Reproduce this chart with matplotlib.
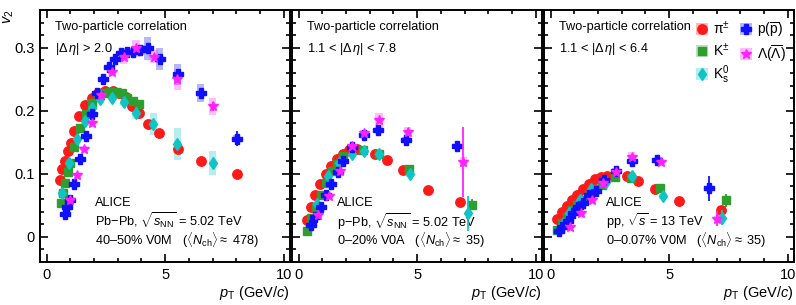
import numpy as np
import matplotlib
matplotlib.use("Agg")
import matplotlib.pyplot as plt
from matplotlib.lines import Line2D
from matplotlib.legend_handler import HandlerTuple
from matplotlib.ticker import MultipleLocator

plt.rcParams['font.family'] = ['Liberation Sans', 'DejaVu Sans']
plt.rcParams['mathtext.fontset'] = 'custom'
plt.rcParams['mathtext.rm'] = 'Liberation Sans'
plt.rcParams['mathtext.it'] = 'Liberation Sans:italic'
plt.rcParams['mathtext.bf'] = 'Liberation Sans:bold'

# ---------------- Panel 1: Pb-Pb ----------------
pbpb_pi_pt = [0.56, 0.66, 0.77, 0.89, 1.01, 1.15, 1.38, 1.63, 1.90, 2.18, 2.46, 2.78, 3.06, 3.35, 3.59, 3.91, 4.27, 4.75, 5.53, 6.50, 8.02]
pbpb_pi_v2 = [0.090, 0.107, 0.121, 0.136, 0.149, 0.168, 0.192, 0.209, 0.221, 0.228, 0.232, 0.232, 0.229, 0.222, 0.207, 0.197, 0.179, 0.164, 0.140, 0.121, 0.099]
pbpb_pi_stat = [0.001, 0.001, 0.001, 0.001, 0.001, 0.001, 0.001, 0.001, 0.001, 0.001, 0.001, 0.001, 0.001, 0.001, 0.001, 0.001, 0.002, 0.002, 0.003, 0.003, 0.004]
pbpb_pi_sys = [0.003, 0.003, 0.003, 0.003, 0.003, 0.003, 0.003, 0.003, 0.003, 0.003, 0.003, 0.003, 0.003, 0.003, 0.003, 0.003, 0.003, 0.003, 0.004, 0.004, 0.004]

pbpb_K_pt = [0.59, 0.68, 0.78, 0.89, 0.98, 1.15, 1.41, 1.66, 1.90, 2.15, 2.42, 2.67, 2.92, 3.16, 3.40, 3.65, 3.91]
pbpb_K_v2 = [0.053, 0.069, 0.085, 0.103, 0.117, 0.143, 0.172, 0.195, 0.212, 0.223, 0.229, 0.230, 0.230, 0.228, 0.221, 0.216, 0.211]
pbpb_K_stat = [0.001, 0.001, 0.001, 0.001, 0.001, 0.001, 0.001, 0.001, 0.001, 0.001, 0.001, 0.001, 0.001, 0.002, 0.002, 0.002, 0.002]
pbpb_K_sys = [0.004, 0.004, 0.004, 0.004, 0.004, 0.004, 0.004, 0.004, 0.004, 0.004, 0.004, 0.004, 0.004, 0.005, 0.005, 0.005, 0.005]

pbpb_K0_pt = [0.63, 0.94, 1.27, 1.62, 1.90, 2.25, 2.77, 3.26, 3.77, 4.50, 5.51, 7.00]
pbpb_K0_v2 = [0.069, 0.117, 0.156, 0.184, 0.204, 0.218, 0.221, 0.214, 0.196, 0.179, 0.147, 0.117]
pbpb_K0_stat = [0.001, 0.001, 0.001, 0.001, 0.001, 0.001, 0.002, 0.002, 0.003, 0.004, 0.005, 0.006]
pbpb_K0_sys = [0.004, 0.004, 0.004, 0.005, 0.005, 0.005, 0.005, 0.006, 0.009, 0.018, 0.025, 0.019]

pbpb_p_pt = [0.77, 0.87, 0.98, 1.15, 1.41, 1.66, 1.90, 2.11, 2.39, 2.62, 2.88, 3.12, 3.38, 3.65, 3.94, 4.27, 4.78, 5.53, 6.50, 8.02]
pbpb_p_v2 = [0.036, 0.047, 0.059, 0.084, 0.123, 0.160, 0.195, 0.228, 0.251, 0.270, 0.283, 0.291, 0.294, 0.294, 0.296, 0.299, 0.282, 0.258, 0.228, 0.156]
pbpb_p_stat = [0.001, 0.001, 0.001, 0.001, 0.001, 0.001, 0.001, 0.001, 0.001, 0.001, 0.002, 0.002, 0.002, 0.002, 0.003, 0.004, 0.004, 0.005, 0.006, 0.012]
pbpb_p_sys = [0.003, 0.003, 0.003, 0.003, 0.003, 0.003, 0.003, 0.003, 0.003, 0.003, 0.003, 0.004, 0.005, 0.006, 0.008, 0.018, 0.017, 0.017, 0.014, 0.006]

pbpb_L_pt = [0.98, 1.29, 1.57, 1.90, 2.28, 2.74, 3.26, 3.77, 4.53, 5.51, 7.00]
pbpb_L_v2 = [0.058, 0.098, 0.140, 0.181, 0.225, 0.262, 0.286, 0.299, 0.286, 0.250, 0.207]
pbpb_L_stat = [0.002, 0.002, 0.002, 0.002, 0.002, 0.002, 0.003, 0.003, 0.004, 0.005, 0.007]
pbpb_L_sys = [0.004, 0.004, 0.004, 0.005, 0.005, 0.006, 0.011, 0.013, 0.010, 0.017, 0.013]

# ---------------- Panel 2: p-Pb ----------------
ppb_pi_pt = [0.34, 0.51, 0.69, 0.90, 1.14, 1.36, 1.60, 1.86, 2.14, 2.45, 3.22, 3.71, 4.41, 5.44, 6.81]
ppb_pi_v2 = [0.026, 0.048, 0.066, 0.084, 0.099, 0.113, 0.124, 0.132, 0.137, 0.139, 0.132, 0.122, 0.106, 0.075, 0.055]
ppb_pi_stat = [0.001, 0.001, 0.001, 0.001, 0.001, 0.001, 0.001, 0.001, 0.001, 0.001, 0.001, 0.002, 0.002, 0.003, 0.004]
ppb_pi_sys = [0.002, 0.002, 0.002, 0.002, 0.002, 0.002, 0.002, 0.002, 0.002, 0.002, 0.002, 0.002, 0.003, 0.003, 0.003]

ppb_K_pt = [0.34, 0.52, 0.72, 0.93, 1.15, 1.39, 1.63, 1.88, 2.73, 3.40, 4.67, 7.30]
ppb_K_v2 = [0.010, 0.030, 0.048, 0.067, 0.085, 0.104, 0.116, 0.129, 0.138, 0.132, 0.108, 0.051]
ppb_K_stat = [0.001, 0.001, 0.001, 0.001, 0.001, 0.001, 0.001, 0.001, 0.002, 0.002, 0.003, 0.009]
ppb_K_sys = [0.003, 0.003, 0.003, 0.003, 0.003, 0.003, 0.003, 0.003, 0.003, 0.004, 0.005, 0.005]

ppb_K0_pt = [0.78, 1.25, 1.71, 2.24, 2.76, 3.39, 4.70, 7.16]
ppb_K0_v2 = [0.052, 0.096, 0.117, 0.132, 0.136, 0.131, 0.100, 0.037]
ppb_K0_stat = [0.002, 0.002, 0.002, 0.002, 0.003, 0.003, 0.005, 0.027]
ppb_K0_sys = [0.003, 0.003, 0.003, 0.003, 0.004, 0.004, 0.005, 0.004]

ppb_p_pt = [0.51, 0.69, 0.93, 1.14, 1.36, 1.65, 1.88, 2.24, 2.76, 3.36, 4.51, 6.69]
ppb_p_v2 = [0.018, 0.031, 0.047, 0.066, 0.084, 0.103, 0.121, 0.142, 0.161, 0.169, 0.154, 0.144]
ppb_p_stat = [0.001, 0.001, 0.001, 0.001, 0.001, 0.001, 0.002, 0.002, 0.002, 0.003, 0.004, 0.008]
ppb_p_sys = [0.003, 0.003, 0.003, 0.003, 0.003, 0.003, 0.003, 0.003, 0.004, 0.004, 0.004, 0.004]

ppb_L_pt = [0.83, 1.29, 1.74, 2.26, 2.76, 3.39, 4.60, 6.95]
ppb_L_v2 = [0.034, 0.064, 0.105, 0.144, 0.164, 0.185, 0.166, 0.119]
ppb_L_stat = [0.002, 0.002, 0.002, 0.003, 0.003, 0.004, 0.006, 0.056]
ppb_L_sys = [0.003, 0.003, 0.004, 0.004, 0.006, 0.012, 0.009, 0.008]

# ---------------- Panel 3: pp ----------------
pp_pi_pt = [0.28, 0.49, 0.68, 0.89, 1.12, 1.38, 1.63, 1.87, 2.12, 2.36, 3.21, 3.70, 4.40, 5.43, 7.19]
pp_pi_v2 = [0.029, 0.040, 0.049, 0.058, 0.067, 0.076, 0.084, 0.091, 0.095, 0.097, 0.097, 0.088, 0.076, 0.057, 0.043]
pp_pi_stat = [0.001, 0.001, 0.001, 0.001, 0.001, 0.001, 0.001, 0.001, 0.001, 0.001, 0.001, 0.002, 0.002, 0.003, 0.004]
pp_pi_sys = [0.002, 0.002, 0.002, 0.002, 0.002, 0.002, 0.002, 0.002, 0.002, 0.002, 0.002, 0.002, 0.002, 0.003, 0.003]

pp_K_pt = [0.28, 0.49, 0.68, 0.89, 1.12, 1.35, 1.62, 1.87, 2.15, 2.71, 3.38, 4.61, 7.38]
pp_K_v2 = [0.011, 0.022, 0.031, 0.042, 0.051, 0.059, 0.067, 0.076, 0.083, 0.095, 0.094, 0.077, 0.058]
pp_K_stat = [0.001, 0.001, 0.001, 0.001, 0.001, 0.001, 0.001, 0.001, 0.001, 0.002, 0.002, 0.003, 0.010]
pp_K_sys = [0.003, 0.003, 0.003, 0.003, 0.003, 0.003, 0.003, 0.003, 0.003, 0.003, 0.004, 0.004, 0.004]

pp_K0_pt = [0.51, 0.79, 1.24, 1.69, 2.33, 3.42, 4.73, 7.22]
pp_K0_v2 = [0.021, 0.037, 0.058, 0.076, 0.087, 0.097, 0.064, 0.030]
pp_K0_stat = [0.001, 0.001, 0.001, 0.002, 0.002, 0.003, 0.004, 0.012]
pp_K0_sys = [0.003, 0.003, 0.003, 0.003, 0.003, 0.005, 0.004, 0.004]

pp_p_pt = [0.36, 0.49, 0.72, 0.95, 1.16, 1.38, 1.63, 1.91, 2.25, 2.74, 3.42, 4.50, 6.68]
pp_p_v2 = [0.009, 0.015, 0.025, 0.037, 0.048, 0.053, 0.067, 0.072, 0.090, 0.105, 0.121, 0.122, 0.077]
pp_p_stat = [0.001, 0.001, 0.001, 0.001, 0.001, 0.001, 0.001, 0.002, 0.002, 0.002, 0.003, 0.004, 0.020]
pp_p_sys = [0.003, 0.003, 0.003, 0.003, 0.003, 0.003, 0.003, 0.003, 0.003, 0.004, 0.004, 0.004, 0.004]

pp_L_pt = [0.81, 1.28, 1.73, 2.22, 2.74, 3.42, 4.64, 7.03]
pp_L_v2 = [0.015, 0.038, 0.059, 0.085, 0.103, 0.127, 0.119, 0.029]
pp_L_stat = [0.002, 0.002, 0.002, 0.002, 0.003, 0.004, 0.005, 0.012]
pp_L_sys = [0.003, 0.003, 0.003, 0.003, 0.004, 0.007, 0.005, 0.004]

# labels / texts
species_labels = ['π$^{\\pm}$', r'K$^{\pm}$', r'K$^{0}_{\mathrm{s}}$',
                  r'p($\overline{\mathrm{p}}$)', r'Λ($\overline{\mathrm{Λ}}$)']
title_line = 'Two-particle correlation'
eta_gaps = [r'$|\Delta\,\eta|$ > 2.0', r'1.1 < $|\Delta\,\eta|$ < 7.8', r'1.1 < $|\Delta\,\eta|$ < 6.4']
system_lines = [r'Pb$-$Pb, $\sqrt{s_{\mathrm{NN}}}$ = 5.02 TeV',
                r'p$-$Pb, $\sqrt{s_{\mathrm{NN}}}$ = 5.02 TeV',
                r'pp, $\sqrt{s}$ = 13 TeV']
class_lines = [r'40–50% V0M   ($\langle N_{\mathrm{ch}}\rangle \approx$ 478)',
               r'0–20% V0A   ($\langle N_{\mathrm{ch}}\rangle \approx$ 35)',
               r'0–0.07% V0M   ($\langle N_{\mathrm{ch}}\rangle \approx$ 35)']
x_ticks = [0, 5, 10]
y_ticks = [0, 0.1, 0.2, 0.3]
y_tick_labels = ['0', '0.1', '0.2', '0.3']

# styles
colors = ['#ff1a1a', '#2e9e2e', '#11c4c4', '#1010ff', '#ff22ff']
markers = ['o', 's', 'd', 'P', '*']
msizes = [6.8, 6.4, 6.6, 7.0, 7.2]

panels = [
    [(pbpb_pi_pt, pbpb_pi_v2, pbpb_pi_stat, pbpb_pi_sys),
     (pbpb_K_pt, pbpb_K_v2, pbpb_K_stat, pbpb_K_sys),
     (pbpb_K0_pt, pbpb_K0_v2, pbpb_K0_stat, pbpb_K0_sys),
     (pbpb_p_pt, pbpb_p_v2, pbpb_p_stat, pbpb_p_sys),
     (pbpb_L_pt, pbpb_L_v2, pbpb_L_stat, pbpb_L_sys)],
    [(ppb_pi_pt, ppb_pi_v2, ppb_pi_stat, ppb_pi_sys),
     (ppb_K_pt, ppb_K_v2, ppb_K_stat, ppb_K_sys),
     (ppb_K0_pt, ppb_K0_v2, ppb_K0_stat, ppb_K0_sys),
     (ppb_p_pt, ppb_p_v2, ppb_p_stat, ppb_p_sys),
     (ppb_L_pt, ppb_L_v2, ppb_L_stat, ppb_L_sys)],
    [(pp_pi_pt, pp_pi_v2, pp_pi_stat, pp_pi_sys),
     (pp_K_pt, pp_K_v2, pp_K_stat, pp_K_sys),
     (pp_K0_pt, pp_K0_v2, pp_K0_stat, pp_K0_sys),
     (pp_p_pt, pp_p_v2, pp_p_stat, pp_p_sys),
     (pp_L_pt, pp_L_v2, pp_L_stat, pp_L_sys)],
]

W, H = 796, 305
fig = plt.figure(figsize=(W / 100, H / 100), dpi=100)
ax_w = 250 / W
ax_b = 43 / H
ax_h = 252 / H
lefts = [40 / W, 292 / W, 544 / W]
alice_x = [0.22, 0.179, 0.248]

axes = []
for i, left in enumerate(lefts):
    ax = fig.add_axes([left, ax_b, ax_w, ax_h])
    axes.append(ax)
    for j, (pt, v2, st, sy) in enumerate(panels[i]):
        pt = np.array(pt); v2 = np.array(v2); sy = np.array(sy)
        ax.bar(pt, 2 * sy, bottom=v2 - sy, width=0.3, color=colors[j], alpha=0.3,
               linewidth=0, zorder=1 + j * 0.1)
        ax.errorbar(pt, v2, yerr=st, fmt=markers[j], color=colors[j], ms=msizes[j],
                    mec=colors[j], elinewidth=1.3, capsize=0, zorder=3 + j * 0.1)
    ax.set_xlim(-0.28, 10.27)
    ax.set_ylim(-0.040, 0.360)
    ax.set_xticks(x_ticks)
    ax.set_xticklabels([str(t) for t in x_ticks])
    ax.xaxis.set_minor_locator(MultipleLocator(1))
    ax.set_yticks(y_ticks)
    ax.yaxis.set_minor_locator(MultipleLocator(0.02))
    if i == 0:
        ax.set_yticklabels(y_tick_labels)
    else:
        ax.set_yticklabels([])
    ax.tick_params(which='both', direction='in', top=True, right=True, labelsize=10.5, pad=4)
    ax.tick_params(which='major', length=6, width=1.2)
    ax.tick_params(which='minor', length=3.2, width=1.2)
    for sp in ax.spines.values():
        sp.set_linewidth(1.4)
    ax.set_xlabel(r'$p_{\mathrm{T}}$ (GeV/$c$)', loc='right', fontsize=10.5, labelpad=2)
    ax.text(0.06, 0.933, title_line, transform=ax.transAxes, fontsize=9.2, ha='left', va='center')
    ax.text(0.06, 0.845, eta_gaps[i], transform=ax.transAxes, fontsize=9.2, ha='left', va='center')
    ax.text(alice_x[i], 0.236, 'ALICE', transform=ax.transAxes, fontsize=9.2, ha='left', va='center')
    ax.text(alice_x[i], 0.162, system_lines[i], transform=ax.transAxes, fontsize=9.2, ha='left', va='center')
    ax.text(alice_x[i], 0.085, class_lines[i], transform=ax.transAxes, fontsize=9.2, ha='left', va='center')

fig.text(2 / W, 1 - 10 / H, r'$v_2$', rotation=90, ha='left', va='top', fontsize=10.5)

handles = []
for j in range(5):
    box = Line2D([], [], marker='s', ms=8.5, color=colors[j], alpha=0.3, ls='none', mew=0)
    mk = Line2D([], [], marker=markers[j], color=colors[j], ls='none', ms=msizes[j])
    handles.append((box, mk))
axes[2].legend(handles, species_labels, handler_map={tuple: HandlerTuple(ndivide=1)},
               loc='upper left', bbox_to_anchor=(0.612, 0.96), ncol=2, frameon=False,
               borderpad=0, borderaxespad=0, handlelength=0.75, handleheight=0.8,
               handletextpad=0.4, columnspacing=0.8, labelspacing=0.3, fontsize=10)

fig.savefig('out.png', dpi=100)
